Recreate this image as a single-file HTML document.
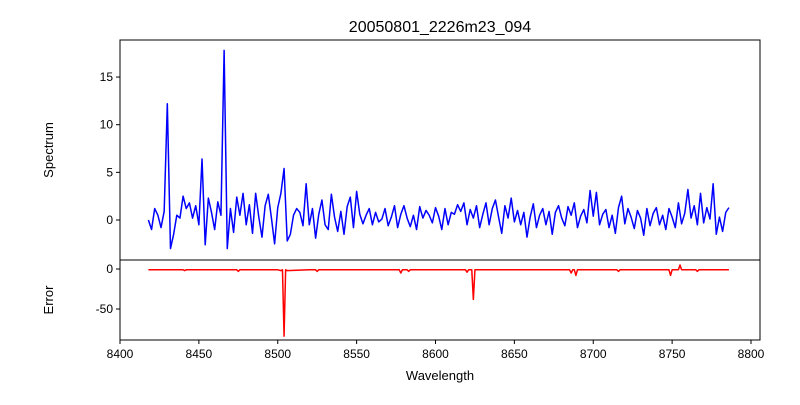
<!DOCTYPE html>
<html><head><meta charset="utf-8"><style>
body{margin:0;background:#fff;}
svg text{font-family:"Liberation Sans","DejaVu Sans",sans-serif;fill:#000;}
</style></head><body>
<svg id="chart" width="800" height="400" xmlns="http://www.w3.org/2000/svg">
<rect width="800" height="400" fill="#fff"/>
<text x="440" y="32" font-size="16" text-anchor="middle">20050801_2226m23_094</text>
<g id="top"></g><g id="bot"></g>
<text transform="translate(53,150) rotate(-90)" font-size="13" text-anchor="middle">Spectrum</text>
<text transform="translate(53,300) rotate(-90)" font-size="13" text-anchor="middle">Error</text>
<text x="440" y="380" font-size="13" text-anchor="middle">Wavelength</text>
</svg>
<script>
const specStart = 8418, specStep = 2;
const specValues = [
0,-1,1.2,0.5,-0.8,0.9,12.2,-3,-1.5,0.5,
0.2,2.5,1.2,1.8,0.2,1.5,-0.5,6.4,-2.6,2.3,
0.8,-1,1.9,0.5,17.8,-3,1.2,-1.3,2.4,0.5,
2.8,-0.5,1.6,-1.4,2.8,0.3,-1.8,1.5,2.7,0.2,
-2.5,1.3,2.8,5.4,-2.2,-1.5,0.5,1.2,0.8,-0.6,
3.8,-0.5,1.2,-1.9,0.6,2.1,-0.5,-1,2.7,0.3,
-1.2,0.9,-1.5,1.4,2.4,-0.8,3.0,0.6,-0.4,0.5,
1.2,-0.5,0.8,-0.2,0.1,1.2,-0.6,0.3,1.5,-0.8,
0.6,1.5,0.2,-0.7,0.5,-1,1.4,0.2,1.0,0.5,
-0.3,1.3,0.4,-1,1.2,-0.5,0.8,0.6,1.6,0.9,
1.8,-0.5,1.1,0.2,1.5,-0.8,0.6,1.8,-0.5,1.2,
2.1,0.3,-1.4,1.5,0.2,2.3,-0.2,1.0,-0.5,0.8,
-1.8,0.3,1.7,-0.8,0.5,1.2,-0.5,0.9,-1.5,0.8,
1.5,0.2,-0.6,1.4,0.5,1.8,-0.8,0.4,1.1,-0.3,
3.1,0.4,2.9,-0.5,0.6,1.1,-0.8,0.5,-1.4,1.3,
2.5,-0.4,1.2,0.3,-0.9,1.0,0.2,-1.6,1.2,-0.6,
0.7,1.3,-0.5,0.5,-1.0,1.2,0.3,-0.8,1.8,-0.4,
0.7,3.2,0.2,1.5,-0.5,2.8,-0.3,1.3,0.1,3.8,
-1.5,0.3,-1.2,0.8,1.3];
const errX = [8418,8440,8441,8442,8460,8474,8475,8476,8500,8502,8503,8504,8505,8506,8520,8524,8525,8526,8560,8577,8578,8579,8582,8583,8584,8619,8620,8621,8623,8624,8625,8650,8685,8686,8687,8688,8689,8690,8715,8716,8717,8748,8749,8750,8754,8755,8756,8765,8766,8767,8786];
const errY = [-1,-1,-2,-1,-1,-1,-3,-1,-1,-2,-1,-84,-1,-2,-1,-1,-3,-1,-1,-1,-5,-1,-1,-3,-1,-1,-4,-1,-1,-38,-1,-1,-1,-5,-1,-1,-8,-1,-1,-3,-1,-1,-8,-1,-1,5,-1,-1,-3,-1,-1];
const xTicks = [8400,8450,8500,8550,8600,8650,8700,8750,8800];
const topTicks = [0,5,10,15];
const botTicks = [0,-50];

const NS="http://www.w3.org/2000/svg";
const L=120,R=760;
const xs=v=>120+(v-8400)*(751-120)/400;
const yTop=v=>220-v*9.53;
const yBot=v=>269-v*0.8;
function mk(tag,attrs,parent){const e=document.createElementNS(NS,tag);for(const k in attrs)e.setAttribute(k,attrs[k]);parent.appendChild(e);return e;}
const gTop=document.getElementById('top'), gBot=document.getElementById('bot');

let d=specValues.map((v,i)=>(i?'L':'M')+xs(specStart+i*specStep).toFixed(2)+','+yTop(v).toFixed(2)).join('');
let p=mk('path',{d:d,fill:'none',stroke:'#0000ff','stroke-width':1.5,'stroke-linejoin':'round'},gTop);


d=errX.map((x,i)=>(i?'L':'M')+xs(x).toFixed(2)+','+yBot(errY[i]).toFixed(2)).join('');
p=mk('path',{d:d,fill:'none',stroke:'#ff0000','stroke-width':1.5,'stroke-linejoin':'round'},gBot);



let f=mk('rect',{x:L,y:40,width:R-L,height:220,fill:'none',stroke:'#000','stroke-width':1},gTop);


f=mk('rect',{x:L,y:260,width:R-L,height:80,fill:'none',stroke:'#000','stroke-width':1},gBot);



topTicks.forEach(v=>{const y=yTop(v);
 mk('line',{x1:L-4,x2:L,y1:y,y2:y,stroke:'#000'},gTop);
 const t=mk('text',{x:L-7,y:y+4,'font-size':12,'text-anchor':'end'},gTop);t.textContent=v;
 
 });
botTicks.forEach(v=>{const y=yBot(v);
 mk('line',{x1:L-4,x2:L,y1:y,y2:y,stroke:'#000'},gBot);
 const t=mk('text',{x:L-7,y:y+4,'font-size':12,'text-anchor':'end'},gBot);t.textContent=v;
 
 });
xTicks.forEach(v=>{const x=xs(v);
 mk('line',{x1:x,x2:x,y1:340,y2:344,stroke:'#000'},gBot);
 const t=mk('text',{x:x,y:358,'font-size':12,'text-anchor':'middle'},gBot);t.textContent=v;
 
 });
</script>
</body></html>
